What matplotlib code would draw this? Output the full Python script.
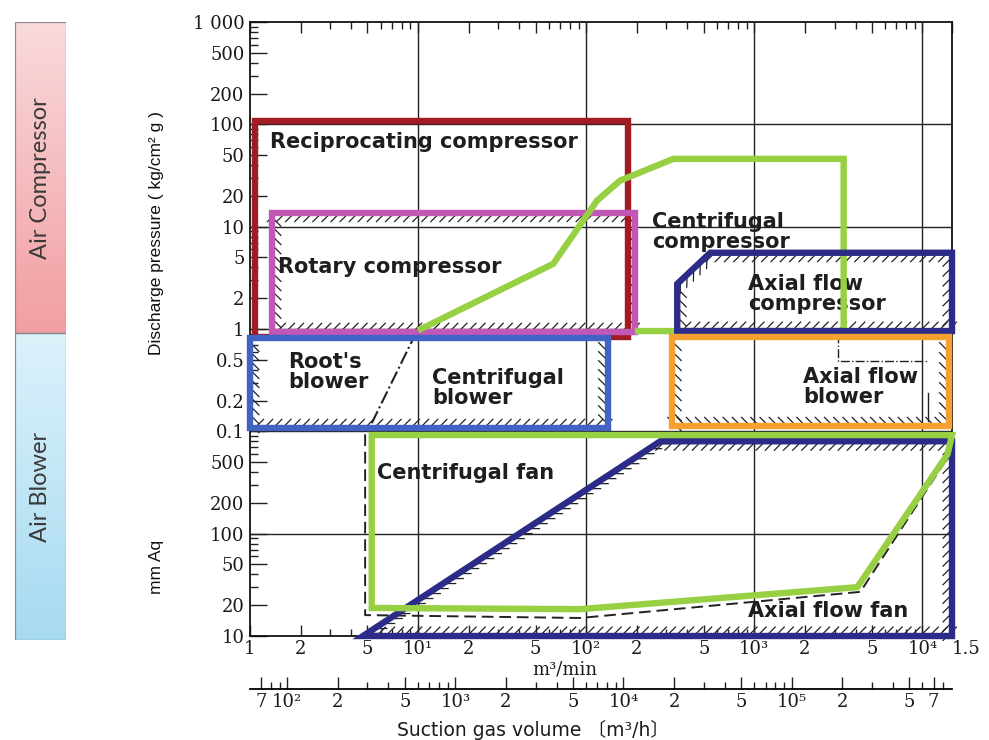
import numpy as np
import matplotlib
matplotlib.use('Agg')
import matplotlib.pyplot as plt
from matplotlib import patheffects, font_manager
from matplotlib.patches import Rectangle, Polygon
from matplotlib.ticker import FixedLocator, NullFormatter

# ---------------- data ----------------
# primary x axis: suction volume in m3/min
x_ticks = [1, 2, 5, 10, 20, 50, 100, 200, 500, 1000, 2000, 5000, 10000, 15000]
x_labels = ['1', '2', '5', '10¹', '2', '5', '10²', '2', '5', '10³', '2', '5', '10⁴', '1.5']
# secondary x axis: m3/h
h_ticks = [70, 100, 200, 500, 1e3, 2e3, 5e3, 1e4, 2e4, 5e4, 1e5, 2e5, 5e5, 7e5]
h_labels = ['7', '10²', '2', '5', '10³', '2', '5', '10⁴', '2', '5', '10⁵', '2', '5', '7']
# y axis: pressure in kg/cm2 g (lower part shown in mmAq; 0.1 kg/cm2 = 1000 mmAq)
y_ticks = [1000, 500, 200, 100, 50, 20, 10, 5, 2, 1, 0.5, 0.2, 0.1,
           0.05, 0.02, 0.01, 0.005, 0.002, 0.001]
y_labels = ['1 000', '500', '200', '100', '50', '20', '10', '5', '2', '1', '0.5', '0.2', '0.1',
            '500', '200', '100', '50', '20', '10']
grid_x = [10, 100, 1000, 10000]
grid_y = [0.01, 0.1, 1, 10, 100]

# regions (flow m3/min, pressure kg/cm2), counter-clockwise
recip_x = [1.07, 178, 178, 1.07]
recip_y = [0.84, 0.84, 109, 109]
rotary_x = [1.35, 195, 195, 1.35]
rotary_y = [0.93, 0.93, 13.7, 13.7]
blower_x = [1.0, 134, 134, 1.0]
blower_y = [0.107, 0.107, 0.817, 0.817]
ccomp_x = [195, 3400, 3400, 330, 159, 116, 63.6, 10]
ccomp_y = [0.955, 0.955, 46, 46, 28.2, 18, 4.33, 0.97]
acomp_x = [348, 15000, 15000, 547, 348]
acomp_y = [0.955, 0.955, 5.56, 5.56, 2.76]
ablow_x = [325, 14300, 14300, 325]
ablow_y = [0.112, 0.112, 0.835, 0.835]
cfan_x = [5.3, 92, 4100, 14100, 15000, 5.3]
cfan_y = [0.00188, 0.00183, 0.0030, 0.0596, 0.092, 0.092]
afan_x = [4.7, 15000, 15000, 276]
afan_y = [0.001, 0.001, 0.08, 0.08]

# thin black lines of the underlying chart
cfan_dash_x = [4.84, 4.84, 92, 4276, 14300]
cfan_dash_y = [0.0935, 0.0016, 0.0015, 0.0027, 0.057]
roots_div_x = [5.3, 9.4]
roots_div_y = [0.12, 0.82]
ablow_in1_x = [3160, 3160, 10860]
ablow_in1_y = [0.9, 0.485, 0.485]
ablow_in2_x = [10860, 10860]
ablow_in2_y = [0.236, 0.125]

# ---------------- figure ----------------
W, H = 989, 740
fig = plt.figure(figsize=(W / 100, H / 100), dpi=100)
fig.patch.set_facecolor('white')

L, R, T, B = 250, 952, 22, 636
ax = fig.add_axes([L / W, 1 - B / H, (R - L) / W, (B - T) / H])
ax.set_xscale('log')
ax.set_yscale('log')
ax.set_xlim(1, 15000)
ax.set_ylim(0.001, 1000)

for v in grid_x:
    ax.axvline(v, color='#222222', lw=1.0, zorder=1)
for v in grid_y:
    ax.axhline(v, color='#222222', lw=1.0, zorder=1)

for s in ax.spines.values():
    s.set_linewidth(1.3)
    s.set_color('#111111')

serif = 'DejaVu Serif'
ax.xaxis.set_major_locator(FixedLocator(x_ticks))
ax.set_xticklabels(x_labels)
xmin = [d * s for d in [1, 10, 100, 1000] for s in [3, 4, 6, 7, 8, 9]]
ax.xaxis.set_minor_locator(FixedLocator(xmin))
ax.xaxis.set_minor_formatter(NullFormatter())
ax.yaxis.set_major_locator(FixedLocator(y_ticks))
ax.set_yticklabels(y_labels)
ymin = [d * s for d in [0.001, 0.01, 0.1, 1, 10, 100] for s in [3, 4, 6, 7, 8, 9]]
ax.yaxis.set_minor_locator(FixedLocator(ymin))
ax.yaxis.set_minor_formatter(NullFormatter())
ax.tick_params(axis='x', which='both', direction='in', top=True, bottom=True,
               labelsize=13, pad=3, color='#222')
ax.tick_params(axis='x', which='major', length=8, width=1)
ax.tick_params(axis='x', which='minor', length=5, width=1)
ax.tick_params(axis='y', which='both', direction='in', left=True, right=False,
               labelsize=13, pad=4, color='#222')
ax.tick_params(axis='y', which='major', length=12, width=1)
ax.tick_params(axis='y', which='minor', length=6, width=1)
for lab in ax.get_xticklabels() + ax.get_yticklabels():
    lab.set_fontfamily(serif)
    lab.set_color('#1a1a1a')
ax.get_xticklabels()[-1].set_horizontalalignment('left')

# ---------------- regions ----------------
RED, MAG, BLUE = '#a01c22', '#c258b5', '#4262c4'
LGREEN, NAVY, ORANGE = '#98d043', '#2c2c88', '#f5a030'
LW = 4.6


def hatch_edges(xs, ys, edges, angle=45):
    n = len(xs)
    for i in edges:
        j = (i + 1) % n
        ax.plot([xs[i], xs[j]], [ys[i], ys[j]], color='#222222', lw=0.9, zorder=2.5,
                clip_on=False,
                path_effects=[patheffects.withTickedStroke(spacing=6.5, angle=angle, length=1.4)])


def region(xs, ys, color, z, closed=True):
    if closed:
        p = Polygon(np.column_stack([xs, ys]), closed=True, fill=False, edgecolor=color,
                    lw=LW, joinstyle='miter', zorder=z, clip_on=False)
        ax.add_patch(p)
    else:
        ax.plot(xs, ys, color=color, lw=LW, zorder=z, clip_on=False,
                solid_joinstyle='miter', solid_capstyle='butt')


# hatching of the original chart
hatch_edges(rotary_x, rotary_y, [0, 2, 3])
hatch_edges(rotary_x, rotary_y, [1], angle=135)
hatch_edges(blower_x, blower_y, [0, 1, 3])
hatch_edges(acomp_x, acomp_y, [0, 2, 3, 4])
hatch_edges(acomp_x, acomp_y, [1], angle=135)
hatch_edges(ablow_x, ablow_y, [1, 3])
hatch_edges(ablow_x, ablow_y, [0], angle=135)
hatch_edges(afan_x, afan_y, [0, 2])
hatch_edges(afan_x, afan_y, [1], angle=135)
hatch_edges(afan_x, afan_y, [3], angle=147)

ax.plot(cfan_dash_x, cfan_dash_y, color='#222222', lw=1.4, ls=(0, (6, 3)), zorder=2.5)
ax.plot(roots_div_x, roots_div_y, color='#222222', lw=1.5, ls='-.', zorder=2.5)
ax.plot(ablow_in1_x, ablow_in1_y, color='#222222', lw=1.0, ls='-.', zorder=2.5)
ax.plot(ablow_in2_x, ablow_in2_y, color='#222222', lw=1.0, zorder=2.5)

region(recip_x, recip_y, RED, 3)
region(rotary_x, rotary_y, MAG, 3.1)
region(blower_x, blower_y, BLUE, 3.2)
region(ccomp_x, ccomp_y, LGREEN, 3.3, closed=False)
region(acomp_x, acomp_y, NAVY, 3.4)
region(ablow_x, ablow_y, ORANGE, 3.5)
region(afan_x, afan_y, NAVY, 3.6)
region(cfan_x, cfan_y, LGREEN, 3.7)

# ---------------- region labels ----------------
lab_kw = dict(transform=ax.transAxes, fontsize=15, fontweight='bold', family='DejaVu Sans',
              color='#1e1e1e', ha='left', va='center', linespacing=1.0, zorder=2.8)


def fx(px):
    return (px - L) / (R - L)


def fy(py):
    return (B - py) / (B - T)


ax.text(fx(270), fy(142), 'Reciprocating compressor', **lab_kw)
ax.text(fx(278), fy(267), 'Rotary compressor', **lab_kw)
ax.text(fx(652), fy(232), 'Centrifugal\ncompressor', **lab_kw)
ax.text(fx(288), fy(372), "Root's\nblower", **lab_kw)
ax.text(fx(432), fy(388), 'Centrifugal\nblower', **lab_kw)
ax.text(fx(748), fy(294), 'Axial flow\ncompressor', **lab_kw)
ax.text(fx(803), fy(387), 'Axial flow\nblower', **lab_kw)
ax.text(fx(377), fy(473), 'Centrifugal fan', **lab_kw)
ax.text(fx(748), fy(611), 'Axial flow fan', **lab_kw)

# ---------------- secondary x axis (m3/h) ----------------
ax2 = fig.add_axes([L / W, 1 - 689 / H, (R - L) / W, 0.0005])
ax2.set_xscale('log')
ax2.set_xlim(60, 900000)
ax2.set_yticks([])
for k in ['top', 'left', 'right']:
    ax2.spines[k].set_visible(False)
ax2.spines['bottom'].set_linewidth(1.3)
ax2.patch.set_visible(False)
ax2.xaxis.set_major_locator(FixedLocator(h_ticks))
ax2.set_xticklabels(h_labels)
hmin = [d * s for d in [10, 100, 1000, 1e4, 1e5] for s in [3, 4, 6, 7, 8, 9]
        if 60 < d * s < 900000 and d * s not in h_ticks]
ax2.xaxis.set_minor_locator(FixedLocator(hmin))
ax2.xaxis.set_minor_formatter(NullFormatter())
ax2.tick_params(axis='x', which='both', direction='in', labelsize=13, pad=3, color='#222')
ax2.tick_params(axis='x', which='major', length=9, width=1)
ax2.tick_params(axis='x', which='minor', length=5, width=1)
for lab in ax2.get_xticklabels():
    lab.set_fontfamily(serif)
    lab.set_color('#1a1a1a')

fig.text(565 / W, 1 - 670 / H, 'm³/min', ha='center', va='center', fontsize=13,
         family=serif, color='#1a1a1a')
fig.text(533 / W, 1 - 730 / H, 'Suction gas volume 〔m³/h〕', ha='center', va='center',
         fontsize=13.5, family=['DejaVu Sans', 'Noto Sans CJK JP'], color='#1a1a1a')

# ---------------- y axis titles ----------------
names = {f.name for f in font_manager.fontManager.ttflist}
if 'Liberation Sans Narrow' in names:
    yfam, ysz = ['Liberation Sans Narrow', 'DejaVu Sans'], 14
elif 'Liberation Sans' in names:
    yfam, ysz = ['Liberation Sans', 'DejaVu Sans'], 12.5
else:
    yfam, ysz = ['DejaVu Sans'], 11
fig.text(157 / W, 1 - 233 / H, 'Discharge pressure ( kg/cm² g )', rotation=90,
         ha='center', va='center', fontsize=ysz, family=yfam, color='#111111')
fig.text(157 / W, 1 - 567 / H, 'mm Aq', rotation=90, ha='center', va='center',
         fontsize=ysz, family=yfam, color='#111111')

# ---------------- side category boxes ----------------
bx = fig.add_axes([15 / W, 1 - 640 / H, 51 / W, 618 / H])
bx.set_xlim(0, 1)
bx.set_ylim(0, 1)
bx.axis('off')
split = (640 - 333) / 618


def grad(top, bot, n=200):
    t = np.linspace(0, 1, n)[:, None]
    c = np.array(top)[None, :] * (1 - t) + np.array(bot)[None, :] * t
    return (c / 255.0)[:, None, :]


bx.imshow(grad((249, 218, 220), (242, 158, 161)), extent=(0, 1, split, 1), aspect='auto',
          origin='upper', zorder=1)
bx.imshow(grad((220, 242, 251), (166, 218, 241)), extent=(0, 1, 0, split), aspect='auto',
          origin='upper', zorder=1)
bx.add_patch(Rectangle((0, split), 1, 1 - split, fill=False, edgecolor='#8a8a8a', lw=0.9, zorder=2))
bx.add_patch(Rectangle((0, 0), 1, split, fill=False, edgecolor='#8a8a8a', lw=0.9, zorder=2))
bx.set_xlim(0, 1)
bx.set_ylim(0, 1)
bx.text(0.5, (640 - 178) / 618, 'Air Compressor', rotation=90, ha='center', va='center',
        fontsize=17, family=['Lato', 'DejaVu Sans'], color='#3a3a3a', zorder=3)
bx.text(0.5, (640 - 487) / 618, 'Air Blower', rotation=90, ha='center', va='center',
        fontsize=17, family=['Lato', 'DejaVu Sans'], color='#3a3a3a', zorder=3)

fig.savefig('out.png', dpi=100, facecolor='white')
